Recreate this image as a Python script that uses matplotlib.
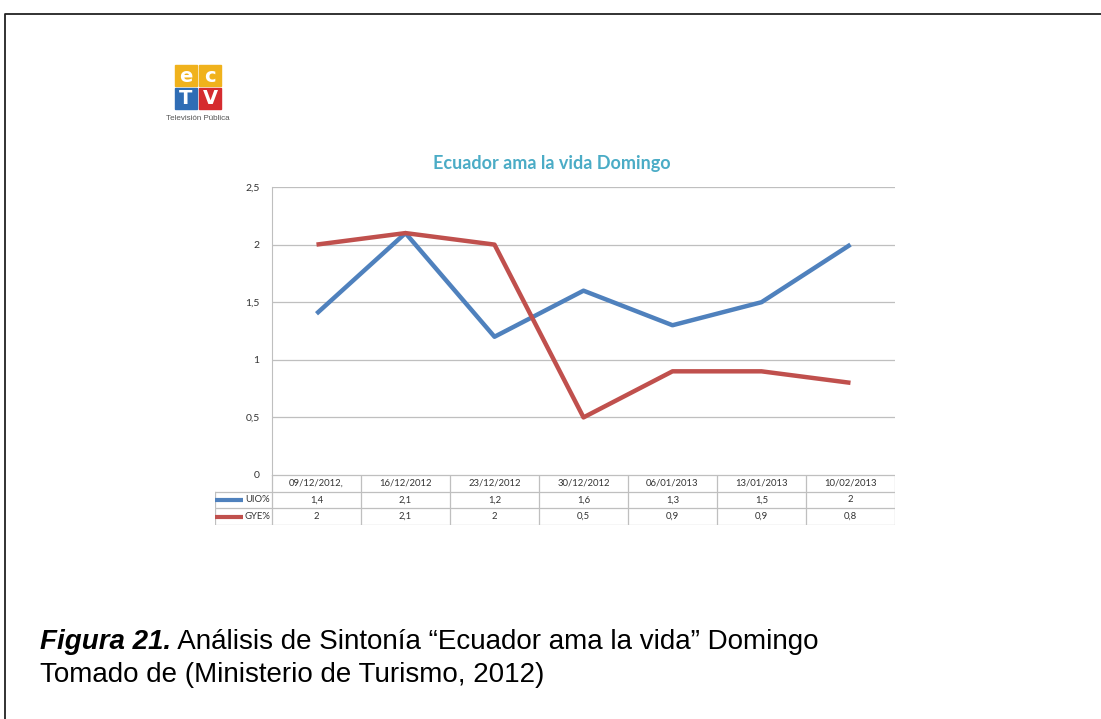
import matplotlib.pyplot as plt
from matplotlib.patches import Rectangle

# datos
fechas = ['09/12/2012,', '16/12/2012', '23/12/2012', '30/12/2012',
          '06/01/2013', '13/01/2013', '10/02/2013']
uio = [1.4, 2.1, 1.2, 1.6, 1.3, 1.5, 2]
gye = [2, 2.1, 2, 0.5, 0.9, 0.9, 0.8]
series = ['UIO%', 'GYE%']
y_ticks = [0, 0.5, 1, 1.5, 2, 2.5]

azul = '#4f81bd'
rojo = '#c0504d'
gris = '#bfbfbf'
W, H = 1101, 719


def coma(v):
    s = ('%g' % v)
    return s.replace('.', ',')


def caja(x0, y0, x1, y1):
    # pixeles (origen arriba-izquierda) -> coordenadas de figura
    return [x0 / W, 1 - y1 / H, (x1 - x0) / W, (y1 - y0) / H]


fig = plt.figure(figsize=(W / 100, H / 100), dpi=100)
fig.patch.set_facecolor('white')

# fondo: marco, logo, pie de figura
bg = fig.add_axes([0, 0, 1, 1])
bg.set_xlim(0, W)
bg.set_ylim(H, 0)
bg.axis('off')
bg.plot([5, 5, W], [H, 14, 14], color='#222222', lw=1.3)

logo = [('e', 175, 65, '#f0b21c'), ('c', 199, 65, '#f0b21c'),
        ('T', 175, 88, '#2f6db5'), ('V', 199, 88, '#d52b2f')]
for letra, x, y, c in logo:
    bg.add_patch(Rectangle((x, y), 22, 21, color=c))
    bg.text(x + 11, y + 11, letra, color='white', ha='center', va='center',
            fontsize=14, fontweight='bold', family='DejaVu Sans')
bg.text(198, 119, 'Televisión Pública', ha='center', va='center',
        fontsize=5.8, color='#555555', family='Liberation Sans')

t1 = bg.text(40, 649, 'Figura 21.', fontsize=20, fontweight='bold',
             fontstyle='italic', family='Liberation Sans', va='baseline')
bg.annotate(' Análisis de Sintonía “Ecuador ama la vida” Domingo',
            xy=(1, 0), xycoords=t1, va='bottom', fontsize=20,
            family='Liberation Sans', annotation_clip=False)
bg.text(40, 682, 'Tomado de (Ministerio de Turismo, 2012)', fontsize=20,
        family='Liberation Sans', va='baseline')

# titulo del grafico
bg.text(552, 163, 'Ecuador ama la vida Domingo', color='#4bacc6',
        fontsize=13, fontweight='bold', family='Lato',
        ha='center', va='center')

# grafico de lineas
ax = fig.add_axes(caja(272, 187, 895, 475))
x = list(range(len(fechas)))
ax.plot(x, uio, color=azul, lw=3.2, solid_capstyle='butt')
ax.plot(x, gye, color=rojo, lw=3.2, solid_capstyle='butt')
ax.set_xlim(-0.5, len(fechas) - 0.5)
ax.set_ylim(0, 2.5)
ax.set_yticks(y_ticks)
ax.set_yticklabels([coma(v) for v in y_ticks], fontsize=7.5, family='Lato',
                   color='#333333')
ax.set_xticks([])
ax.tick_params(axis='y', length=0, pad=9)
ax.grid(axis='y', color=gris, lw=0.9)
ax.set_axisbelow(True)
for lado in ['top', 'right', 'bottom']:
    ax.spines[lado].set_visible(False)
ax.spines['left'].set_color(gris)

# tabla de datos
tax = fig.add_axes(caja(215, 475, 895, 525))
izq = -0.5 - 57 / 89
tax.set_xlim(izq, len(fechas) - 0.5)
tax.set_ylim(3, 0)
tax.axis('off')
for k in range(len(fechas) + 1):
    tax.plot([k - 0.5, k - 0.5], [0, 3], color=gris, lw=0.9)
tax.plot([izq, izq], [1, 3], color=gris, lw=0.9)
tax.plot([-0.5, len(fechas) - 0.5], [0, 0], color=gris, lw=0.9)
for r in [1, 2, 3]:
    tax.plot([izq, len(fechas) - 0.5], [r, r], color=gris, lw=0.9)
for i, f in enumerate(fechas):
    tax.text(i, 0.5, f, ha='center', va='center', fontsize=6.8,
             family='Lato', color='#333333')
for r, (nombre, vals, c) in enumerate(zip(series, [uio, gye], [azul, rojo])):
    fila = r + 1.5
    tax.plot([izq + 0.0, izq + 0.31], [fila, fila], color=c, lw=3,
             solid_capstyle='butt')
    tax.text(-0.52, fila, nombre, ha='right', va='center', fontsize=6.8,
             family='Lato', color='#333333')
    for i, v in enumerate(vals):
        tax.text(i, fila, coma(v), ha='center', va='center', fontsize=6.8,
                 family='Lato', color='#333333')

fig.savefig('out.png', dpi=100)
